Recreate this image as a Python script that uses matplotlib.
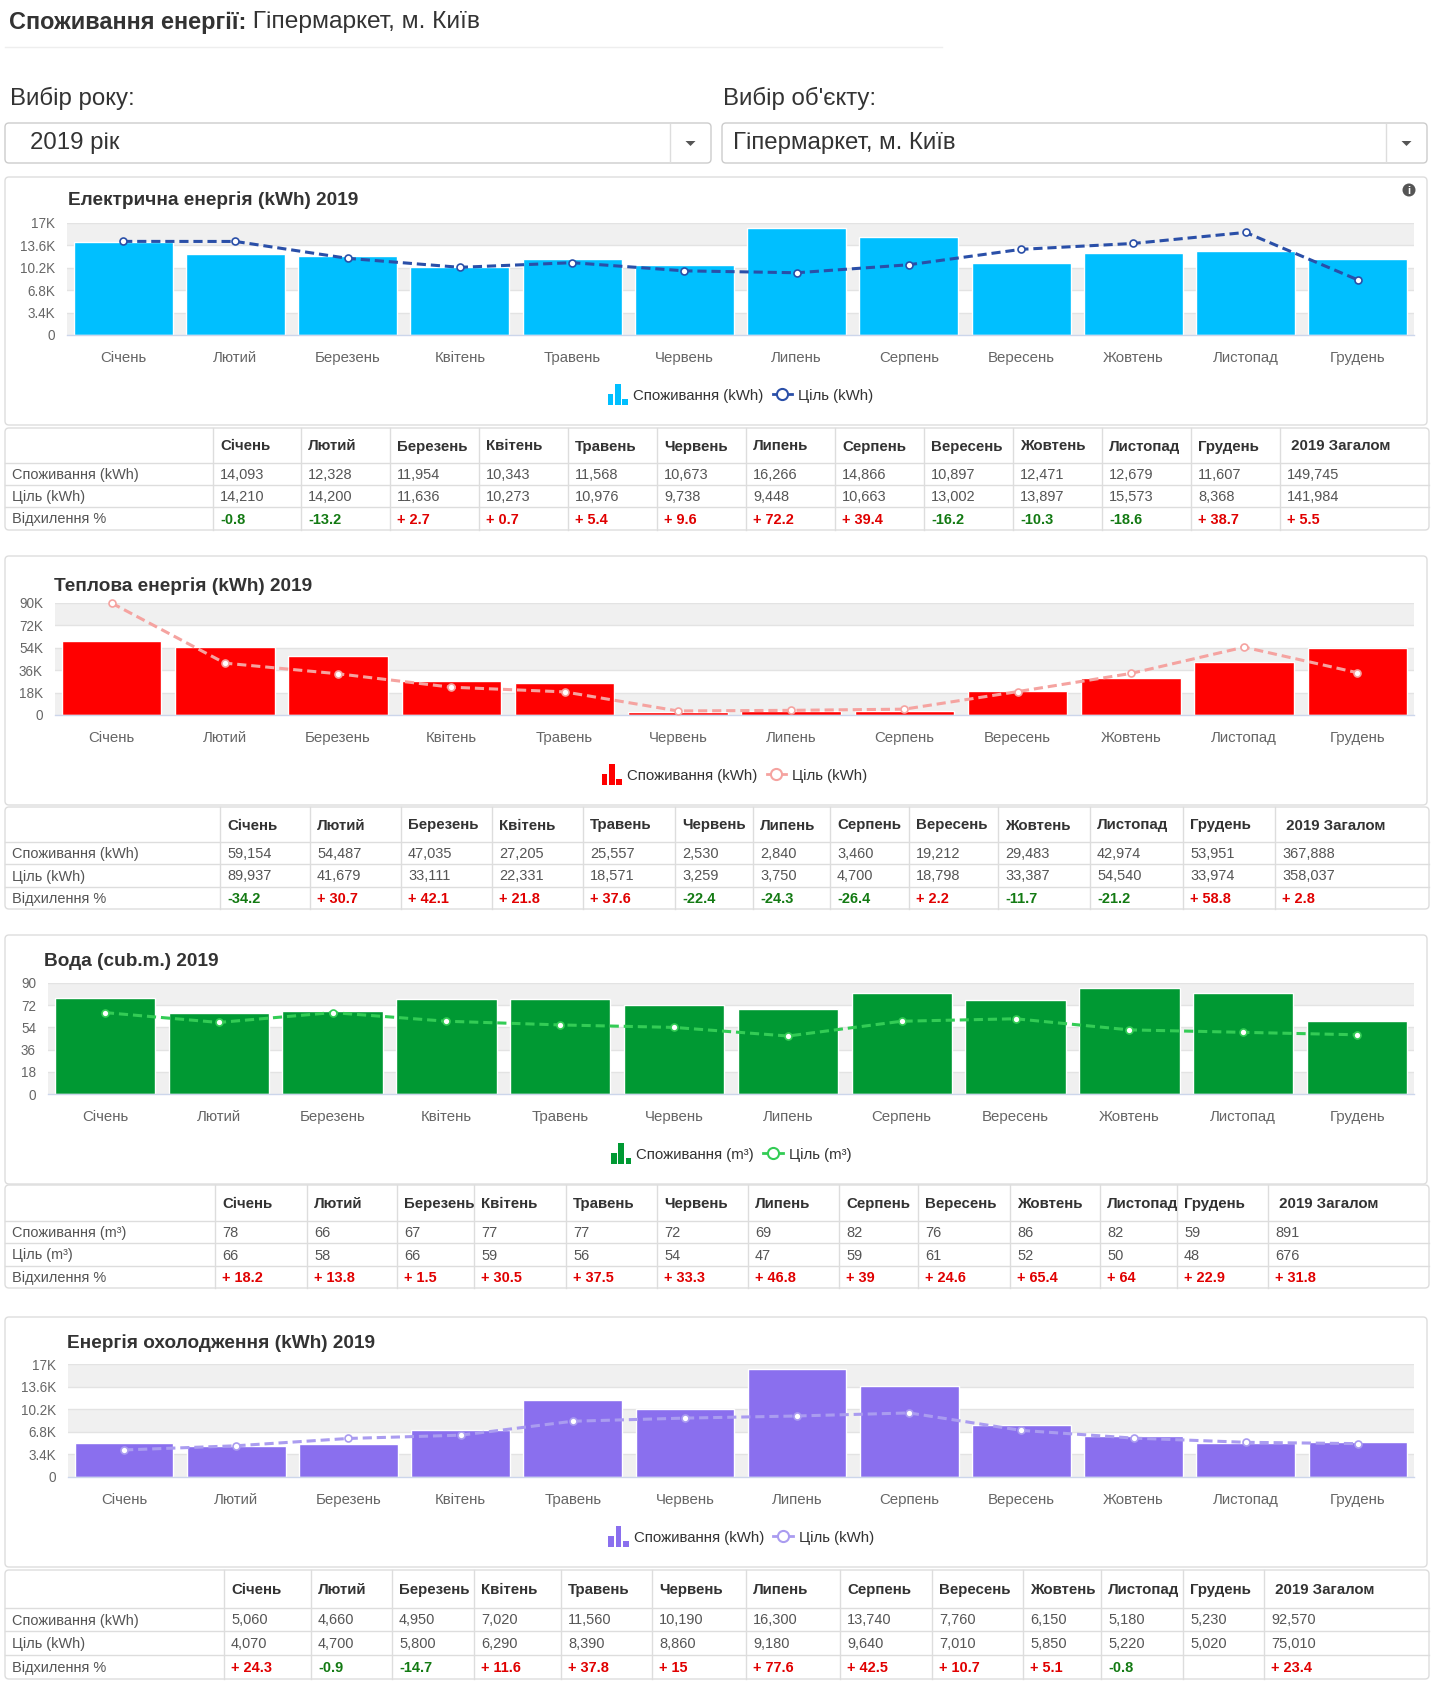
import matplotlib
matplotlib.use("Agg")
import matplotlib.pyplot as plt
from matplotlib.patches import FancyBboxPatch, Rectangle, Circle, Polygon
from matplotlib.lines import Line2D
from matplotlib.legend_handler import HandlerBase
from matplotlib.ticker import FixedLocator, FuncFormatter

plt.rcParams["font.family"] = ["Liberation Sans", "DejaVu Sans"]

# ---------------------------------------------------------------------------
# Дані
# ---------------------------------------------------------------------------
MONTHS = ["Січень", "Лютий", "Березень", "Квітень", "Травень", "Червень",
          "Липень", "Серпень", "Вересень", "Жовтень", "Листопад", "Грудень"]
YEAR = 2019

ELEC_CONS = [14093, 12328, 11954, 10343, 11568, 10673, 16266, 14866, 10897, 12471, 12679, 11607]
ELEC_TARGET = [14210, 14200, 11636, 10273, 10976, 9738, 9448, 10663, 13002, 13897, 15573, 8368]
ELEC_DEV = [-0.8, -13.2, 2.7, 0.7, 5.4, 9.6, 72.2, 39.4, -16.2, -10.3, -18.6, 38.7]
ELEC_TOTAL = [149745, 141984, 5.5]
ELEC_TICKS = [0, 3400, 6800, 10200, 13600, 17000]

HEAT_CONS = [59154, 54487, 47035, 27205, 25557, 2530, 2840, 3460, 19212, 29483, 42974, 53951]
HEAT_TARGET = [89937, 41679, 33111, 22331, 18571, 3259, 3750, 4700, 18798, 33387, 54540, 33974]
HEAT_DEV = [-34.2, 30.7, 42.1, 21.8, 37.6, -22.4, -24.3, -26.4, 2.2, -11.7, -21.2, 58.8]
HEAT_TOTAL = [367888, 358037, 2.8]
HEAT_TICKS = [0, 18000, 36000, 54000, 72000, 90000]

WATER_CONS = [78, 66, 67, 77, 77, 72, 69, 82, 76, 86, 82, 59]
WATER_TARGET = [66, 58, 66, 59, 56, 54, 47, 59, 61, 52, 50, 48]
WATER_DEV = [18.2, 13.8, 1.5, 30.5, 37.5, 33.3, 46.8, 39, 24.6, 65.4, 64, 22.9]
WATER_TOTAL = [891, 676, 31.8]
WATER_TICKS = [0, 18, 36, 54, 72, 90]

COOL_CONS = [5060, 4660, 4950, 7020, 11560, 10190, 16300, 13740, 7760, 6150, 5180, 5230]
COOL_TARGET = [4070, 4700, 5800, 6290, 8390, 8860, 9180, 9640, 7010, 5850, 5220, 5020]
COOL_DEV = [24.3, -0.9, -14.7, 11.6, 37.8, 15, 77.6, 42.5, 10.7, 5.1, -0.8, None]
COOL_TOTAL = [92570, 75010, 23.4]
COOL_TICKS = [0, 3400, 6800, 10200, 13600, 17000]

# ---------------------------------------------------------------------------
# Стиль
# ---------------------------------------------------------------------------
W, H = 1436, 1686
TXT = "#333333"
TXT_LIGHT = "#555555"
AXIS_TXT = "#666666"
BORDER = "#dddddd"
BAND = "#f0f0f0"
RED = "#e00000"
GREEN = "#137a13"


def px(v):
    # пікселі -> пункти при dpi=100
    return v * 0.72


fig = plt.figure(figsize=(W / 100, H / 100), dpi=100)
fig.patch.set_facecolor("white")
bg = fig.add_axes([0, 0, 1, 1])
bg.set_xlim(0, W)
bg.set_ylim(H, 0)
bg.axis("off")


def box(x0, y0, x1, y1, lw=1.0, ec=BORDER, r=4):
    bg.add_patch(FancyBboxPatch((x0, y0), x1 - x0, y1 - y0,
                                boxstyle=f"round,pad=0,rounding_size={r}",
                                fc="none", ec=ec, lw=lw))


# ---------------------------------------------------------------------------
# Заголовок і вибір
# ---------------------------------------------------------------------------
t_bold = bg.text(9, 22, "Споживання енергії:", fontsize=px(23.5), fontweight="bold",
                 color=TXT, va="center", ha="left")
bg.annotate(" Гіпермаркет, м. Київ", xy=(1, 0.5), xycoords=t_bold,
            fontsize=px(24.5), color=TXT, va="center", ha="left")
bg.plot([5, 942], [47, 47], color="#eeeeee", lw=1)

bg.text(10, 98, "Вибір року:", fontsize=px(24), color=TXT, va="center")
bg.text(723, 98, "Вибір об'єкту:", fontsize=px(24), color=TXT, va="center")

for (x0, x1, sep, tx, label) in [(5, 711, 670, 30, f"{YEAR} рік"),
                                 (722, 1427, 1386, 733, "Гіпермаркет, м. Київ")]:
    box(x0, 123, x1, 163, ec="#cccccc", r=4)
    bg.plot([sep, sep], [124, 162], color="#dddddd", lw=1)
    cx = (sep + x1) / 2
    bg.add_patch(Polygon([[cx - 5, 141], [cx + 5, 141], [cx, 146]],
                         closed=True, fc="#555555", ec="none"))
    bg.text(tx, 143, label, fontsize=px(24), color=TXT, va="center")


# ---------------------------------------------------------------------------
# Легенда з іконкою стовпчиків
# ---------------------------------------------------------------------------
class BarIcon:
    def __init__(self, color):
        self.color = color


class BarIconHandler(HandlerBase):
    def create_artists(self, legend, orig, xd, yd, width, height, fontsize, trans):
        arts = []
        bw = width / 3.4
        for i, frac in enumerate([0.6, 1.15, 0.35]):
            r = Rectangle((-xd + i * (bw + 1.2), -yd - 2), bw, (height + 2) * frac,
                          fc=orig.color, ec="none", transform=trans)
            arts.append(r)
        return arts


def make_chart(x0, y0, x1, y1, cons, target, ticks, bar_c, line_c, title,
               title_x, title_y, unit, dash):
    ax = fig.add_axes([x0 / W, 1 - y1 / H, (x1 - x0) / W, (y1 - y0) / H])
    ax.set_facecolor("white")
    idx = list(range(len(MONTHS)))
    for i in range(len(ticks) - 1):
        if i % 2 == 0:
            ax.axhspan(ticks[i], ticks[i + 1], color=BAND, lw=0, zorder=0)
    for t in ticks[1:]:
        ax.axhline(t, color="#e3e3e3", lw=1, zorder=0.5)
    ax.bar(idx, cons, width=0.88, color=bar_c, edgecolor="white", lw=1, zorder=2)
    ax.plot(idx, target, color=line_c, lw=2.2, dashes=dash, marker="o",
            markersize=5, mfc="white", mec=line_c, mew=1.2, zorder=3, clip_on=False)
    ax.set_xlim(-0.5, len(MONTHS) - 0.5)
    ax.set_ylim(ticks[0], ticks[-1])
    ax.yaxis.set_major_locator(FixedLocator(ticks))
    ax.yaxis.set_major_formatter(FuncFormatter(
        lambda v, p: f"{v / 1000:g}K" if v >= 1000 else f"{v:g}"))
    ax.set_xticks(idx)
    ax.set_xticklabels(MONTHS)
    ax.tick_params(axis="y", length=0, pad=px(12), labelsize=px(13.5), labelcolor=AXIS_TXT)
    ax.tick_params(axis="x", length=0, pad=px(16), labelsize=px(15), labelcolor=AXIS_TXT)
    for s in ["top", "left", "right"]:
        ax.spines[s].set_visible(False)
    ax.spines["bottom"].set_color("#ccd6eb")
    ax.spines["bottom"].set_linewidth(1)

    bg.text(title_x, title_y, title, fontsize=px(19), fontweight="bold",
            color=TXT, va="center")

    handles = [BarIcon(bar_c),
               Line2D([], [], color=line_c, lw=2, marker="o", markersize=8,
                      mfc="white", mec=line_c, mew=1.5)]
    labels = [f"Споживання ({unit})", f"Ціль ({unit})"]
    cx = (x0 + x1) / 2 / W
    cy = 1 - (y1 + 60) / H
    fig.legend(handles, labels, loc="center", bbox_to_anchor=(cx, cy), ncol=2,
               frameon=False, fontsize=px(15), labelcolor=TXT,
               handlelength=1.3, handleheight=1.2, handletextpad=0.4,
               columnspacing=0.6, handler_map={BarIcon: BarIconHandler()})
    return ax


def dev_text(v):
    if v is None:
        return "", TXT
    if v >= 0:
        return f"+ {v:g}", RED
    return f"{v:g}", GREEN


def draw_table(cols, rows_y, unit, cons, target, dev, total, fmt):
    x0, x1 = 5, 1429
    box(x0, rows_y[0], x1, rows_y[-1], r=4)
    for y in rows_y[1:-1]:
        bg.plot([x0, x1], [y, y], color=BORDER, lw=1)
    for c in cols:
        bg.plot([c, c], [rows_y[0], rows_y[-1]], color=BORDER, lw=1)
    headers = MONTHS + [f" {YEAR} Загалом"]
    hy = (rows_y[0] + rows_y[1]) / 2 + 1
    for s, h in zip(cols, headers):
        bg.text(s + 7, hy, h, fontsize=px(15), fontweight="bold", color=TXT,
                va="center")
    lab = [f"Споживання ({unit})", f"Ціль ({unit})", "Відхилення %"]
    vals = [cons + [total[0]], target + [total[1]], dev + [total[2]]]
    for r in range(3):
        yc = (rows_y[r + 1] + rows_y[r + 2]) / 2 + 1
        bg.text(12, yc, lab[r], fontsize=px(14.5), color=TXT_LIGHT, va="center")
        for s, v in zip(cols, vals[r]):
            if r < 2:
                bg.text(s + 7, yc, fmt(v), fontsize=px(14.5), color=TXT_LIGHT,
                        va="center")
            else:
                t, c = dev_text(v)
                bg.text(s + 7, yc, t, fontsize=px(14.5), color=c,
                        fontweight="bold", va="center")


fmt_num = lambda v: f"{v:,}"

# Панелі
for (a, b) in [(177, 425), (556, 805), (935, 1184), (1317, 1567)]:
    box(5, a, 1427, b, r=4)

# Електрична енергія
make_chart(67, 223, 1414, 335, ELEC_CONS, ELEC_TARGET, ELEC_TICKS, "#00bfff",
           "#2a4fa8", f"Електрична енергія (kWh) {YEAR}", 68, 200, "kWh", (3, 1.6))
bg.add_patch(Circle((1409, 190), 6.5, fc="#555555", ec="none"))
bg.text(1409, 190.5, "i", fontsize=px(11), fontweight="bold", color="white",
        ha="center", va="center")
draw_table([213, 301, 390, 479, 568, 657, 746, 835, 924, 1013, 1102, 1191, 1280],
           [428, 463, 485, 507, 530], "kWh",
           ELEC_CONS, ELEC_TARGET, ELEC_DEV, ELEC_TOTAL, fmt_num)

# Теплова енергія
make_chart(55, 603, 1414, 715, HEAT_CONS, HEAT_TARGET, HEAT_TICKS, "#ff0000",
           "#f5a3a0", f"Теплова енергія (kWh) {YEAR}", 54, 586, "kWh", (3, 1.6))
draw_table([220, 310, 401, 492, 583, 675, 753, 830, 909, 998, 1090, 1183, 1275],
           [807, 842, 864, 887, 909], "kWh",
           HEAT_CONS, HEAT_TARGET, HEAT_DEV, HEAT_TOTAL, fmt_num)

# Вода
make_chart(48, 983, 1414, 1094, WATER_CONS, WATER_TARGET, WATER_TICKS, "#009933",
           "#33cc55", f"Вода (cub.m.) {YEAR}", 44, 962, "m³", (3, 1.6))
draw_table([215, 307, 397, 474, 566, 657, 748, 839, 918, 1010, 1100, 1177, 1268],
           [1185, 1221, 1243, 1266, 1288], "m³",
           WATER_CONS, WATER_TARGET, WATER_DEV, WATER_TOTAL, fmt_num)

# Енергія охолодження
make_chart(68, 1364, 1414, 1477, COOL_CONS, COOL_TARGET, COOL_TICKS, "#8a6fee",
           "#aa9cf0", f"Енергія охолодження (kWh) {YEAR}", 67, 1343, "kWh", (3, 1.6))
draw_table([224, 311, 392, 474, 561, 652, 746, 840, 932, 1023, 1101, 1183, 1264],
           [1570, 1608, 1631, 1655, 1679], "kWh",
           COOL_CONS, COOL_TARGET, COOL_DEV, COOL_TOTAL, fmt_num)

fig.savefig("out.png", dpi=100, facecolor="white")
